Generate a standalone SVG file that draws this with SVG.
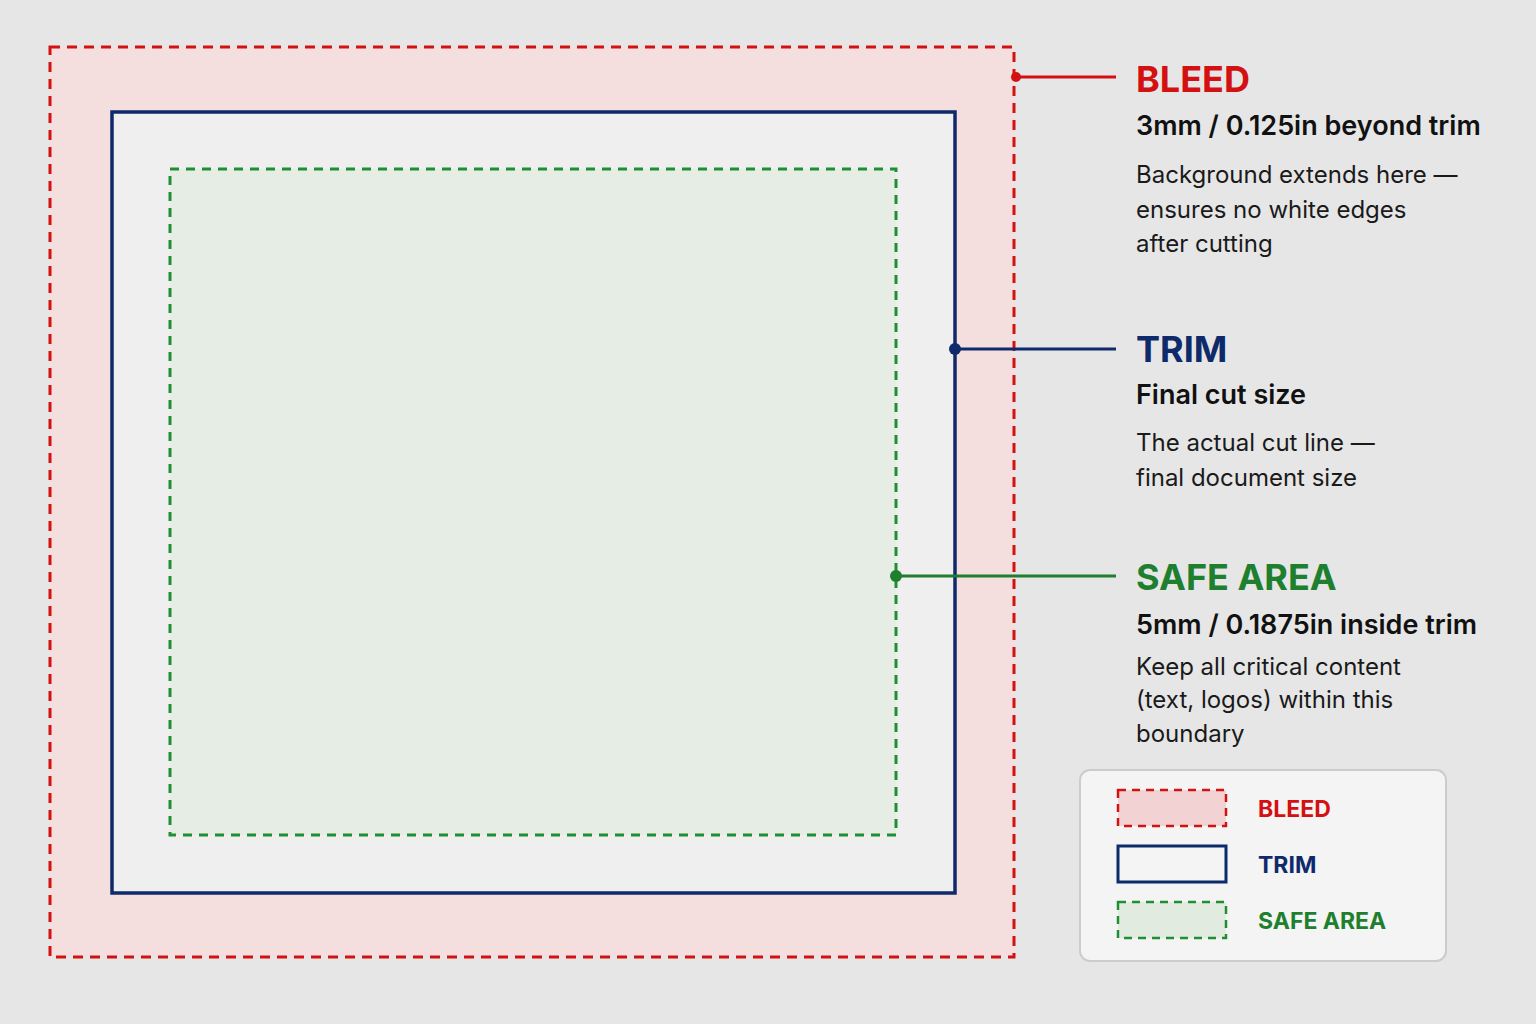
<svg xmlns="http://www.w3.org/2000/svg" width="1536" height="1024" viewBox="0 0 1536 1024">
<style>
text{font-family:Inter,"Noto Sans","Liberation Sans",sans-serif}
.h{font-size:36px;font-weight:700}
.s{font-size:27px;font-weight:600;fill:#111}
.b{font-size:24px;fill:#1a1a1a}
.l{font-size:23px;font-weight:700}
.red{fill:#d41111}.navy{fill:#0f2a6b}.green{fill:#1e7f2e}
</style>
<rect width="1536" height="1024" fill="#e6e6e6"/>
<g id="bleed"><rect x="50" y="47" width="964" height="910" fill="#f5dede" stroke="#d41111" stroke-width="3" stroke-dasharray="10 7"/></g>
<g id="trim"><rect x="112" y="112" width="843" height="781" fill="#f0efef" stroke="#0f2a6b" stroke-width="3.5"/></g>
<g id="safe"><rect x="170" y="169" width="726" height="666" fill="#e6ede4" stroke="#1e8f32" stroke-width="3" stroke-dasharray="9 7"/></g>
<g id="connectors" stroke-width="3">
<line x1="1016" y1="77" x2="1116" y2="77" stroke="#d41111"/><circle cx="1016" cy="77" r="5" fill="#d41111"/>
<line x1="955" y1="349" x2="1116" y2="349" stroke="#0f2a6b"/><circle cx="955" cy="349" r="6" fill="#0f2a6b"/>
<line x1="896" y1="576" x2="1116" y2="576" stroke="#1e7f2e"/><circle cx="896" cy="576" r="6" fill="#1e7f2e"/>
</g>
<g id="label-bleed">
<text x="1136" y="92" class="h red">BLEED</text>
<text x="1136" y="135" class="s">3mm / 0.125in beyond trim</text>
<text x="1136" y="183" class="b">Background extends here —</text>
<text x="1136" y="218" class="b">ensures no white edges</text>
<text x="1136" y="252" class="b">after cutting</text>
</g>
<g id="label-trim">
<text x="1136" y="362" class="h navy">TRIM</text>
<text x="1136" y="404" class="s">Final cut size</text>
<text x="1136" y="451" class="b">The actual cut line —</text>
<text x="1136" y="486" class="b">final document size</text>
</g>
<g id="label-safe">
<text x="1136" y="590" class="h green">SAFE AREA</text>
<text x="1136" y="634" class="s">5mm / 0.1875in inside trim</text>
<text x="1136" y="675" class="b">Keep all critical content</text>
<text x="1136" y="708" class="b">(text, logos) within this</text>
<text x="1136" y="742" class="b">boundary</text>
</g>
<g id="legend">
<rect x="1080" y="770" width="366" height="191" rx="10" fill="#f4f4f4" stroke="#cccccc" stroke-width="2"/>
<rect x="1118" y="790" width="108" height="36" fill="#f2d2d2" stroke="#d41111" stroke-width="2.5" stroke-dasharray="8 6"/>
<rect x="1118" y="846" width="108" height="36" fill="#f4f4f4" stroke="#0f2a6b" stroke-width="3"/>
<rect x="1118" y="902" width="108" height="36" fill="#e2ebe0" stroke="#1e8f32" stroke-width="2.5" stroke-dasharray="8 6"/>
<text x="1258" y="817" class="l red">BLEED</text>
<text x="1258" y="873" class="l navy">TRIM</text>
<text x="1258" y="929" class="l green">SAFE AREA</text>
</g>
</svg>
